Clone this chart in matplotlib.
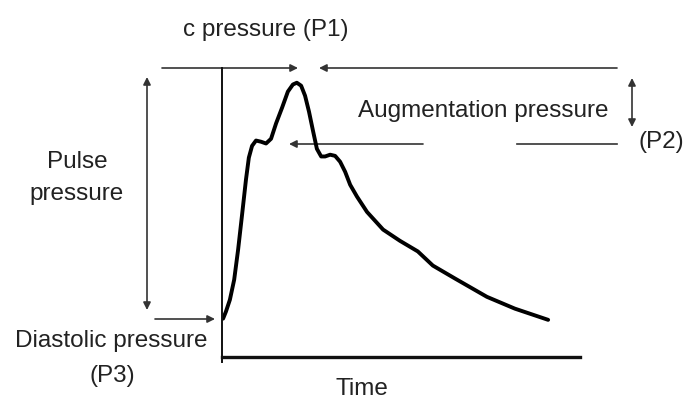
import numpy as np
import matplotlib
matplotlib.use("Agg")
from matplotlib import rc, pyplot as plt

rc('font', family=['Liberation Sans', 'DejaVu Sans'])

# waveform: time (s) and pressure (mmHg, arbitrary scale)
time = [0.003, 0.011, 0.022, 0.034, 0.045, 0.056, 0.067, 0.075, 0.084, 0.095,
        0.109, 0.123, 0.137, 0.151, 0.168, 0.184, 0.198, 0.209, 0.221, 0.232,
        0.243, 0.254, 0.265, 0.277, 0.288, 0.302, 0.316, 0.330, 0.344, 0.358,
        0.377, 0.405, 0.450, 0.497, 0.547, 0.589, 0.651, 0.740, 0.818, 0.911]
pressure = [80.0, 81.2, 83.2, 86.6, 91.7, 97.6, 103.6, 107.3, 109.3, 110.2,
            110.0, 109.7, 110.5, 113.1, 115.8, 118.5, 119.7, 120.0, 119.5, 117.8,
            115.1, 111.9, 108.8, 107.5, 107.5, 107.8, 107.6, 106.6, 104.9, 102.7,
            100.7, 98.1, 95.1, 93.2, 91.4, 89.0, 86.8, 83.7, 81.7, 79.8]

W, H = 687, 401
fig = plt.figure(figsize=(W / 100, H / 100), dpi=100)

# overlay in pixel coordinates for the annotation arrows and labels
ov = fig.add_axes([0, 0, 1, 1])
ov.set_xlim(0, W)
ov.set_ylim(H, 0)
ov.axis('off')

# the waveform axes
ax = fig.add_axes([222 / W, (H - 357) / H, (580 - 222) / W, (357 - 68) / H])
ax.set_facecolor('none')
ax.plot(time, pressure, color='black', lw=2.8, solid_capstyle='round')
ax.set_xlim(0, 1.0)
ax.set_ylim(73.5, 122.5)
ax.set_xticks([])
ax.set_yticks([])
for s in ['top', 'right']:
    ax.spines[s].set_visible(False)
ax.spines['left'].set_linewidth(1.4)
ax.spines['bottom'].set_linewidth(2.4)
ax.spines['left'].set_color('#111111')
ax.spines['bottom'].set_color('#111111')
ax.spines['left'].set_bounds(72.6, 122.5)

c = '#333333'
tc = '#222222'
fs = 17.5


def arrow(tail, head, style='-|>'):
    ov.annotate('', xy=head, xytext=tail,
                arrowprops=dict(arrowstyle=style, lw=1.2, color=c,
                                mutation_scale=11, shrinkA=0, shrinkB=0))


arrow((162, 68), (298, 68))
arrow((617, 68), (319, 68))
arrow((423, 144), (289, 144))
ov.plot([517, 617], [144, 144], color=c, lw=1.2)
arrow((632, 78), (632, 127), '<|-|>')
arrow((147, 77), (147, 310), '<|-|>')
arrow((155, 319), (215, 319))

ov.text(183, 36, 'c pressure (P1)', fontsize=fs, color=tc, va='baseline')
ov.text(358, 117, 'Augmentation pressure', fontsize=fs, color=tc, va='baseline')
ov.text(639, 148, '(P2)', fontsize=fs, color=tc, va='baseline')
ov.text(77, 168, 'Pulse', fontsize=fs, color=tc, va='baseline', ha='center')
ov.text(77, 200, 'pressure', fontsize=fs, color=tc, va='baseline', ha='center')
ov.text(15, 347, 'Diastolic pressure', fontsize=fs, color=tc, va='baseline')
ov.text(112, 382, '(P3)', fontsize=fs, color=tc, va='baseline', ha='center')
ov.text(362, 395, 'Time', fontsize=fs, color=tc, va='baseline', ha='center')

fig.savefig('out.png', dpi=100)
